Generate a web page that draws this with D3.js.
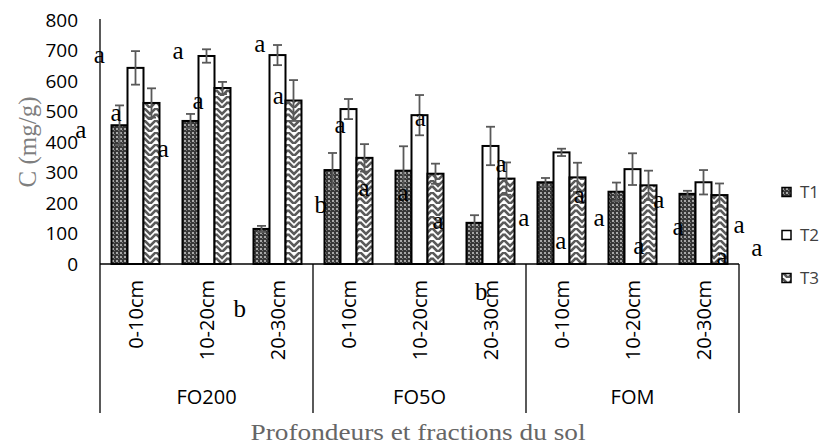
<!DOCTYPE html>
<html><head><meta charset="utf-8">
<script src="https://cdn.jsdelivr.net/npm/d3@7"></script>
<style>body{margin:0;background:#fff}svg{display:block}</style>
</head><body>
<svg id="c" width="828" height="448"></svg>
<script>
const depths = ["0-10cm","10-20cm","20-30cm"];
const fractions = ["FO200","FO5O","FOM"];
const categories = ["FO200|0-10cm","FO200|10-20cm","FO200|20-30cm","FO5O|0-10cm","FO5O|10-20cm","FO5O|20-30cm","FOM|0-10cm","FOM|10-20cm","FOM|20-30cm"];
const seriesNames = ["T1","T2","T3"];
const T1 = [455, 469, 115, 308, 306, 135, 268, 237, 230];
const T2 = [643, 682, 685, 508, 488, 387, 366, 311, 268];
const T3 = [528, 577, 536, 348, 296, 280, 284, 258, 226];
const errT1 = [65, 23, 10, 56, 80, 25, 14, 30, 10];
const errT2 = [55, 22, 33, 33, 66, 63, 12, 52, 40];
const errT3 = [48, 20, 67, 45, 33, 53, 48, 48, 38];
const yTicks = [0,100,200,300,400,500,600,700,800];
// significance letters: [category index, position within category step, value level, letter]
const letters = [
 [0,-0.01,659,"a"],[0,0.225,469,"a"],[0,-0.27,413,"a"],[0,0.89,351,"a"],
 [1,0.10,672,"a"],[1,0.38,508,"a"],
 [2,0.25,695,"a"],[2,0.51,525,"a"],[2,-0.03,-174,"b"],
 [3,0.38,430,"a"],[3,0.11,167,"b"],[3,0.72,223,"a"],
 [4,0.27,207,"a"],[4,0.51,452,"a"],[4,0.76,115,"a"],
 [5,0.37,-118,"b"],[5,0.65,302,"a"],[5,0.97,125,"a"],
 [6,0.75,200,"a"],[6,1.03,125,"a"],[6,0.49,49,"a"],
 [7,0.87,184,"a"],[7,0.59,33,"a"],
 [8,0.14,95,"a"],[8,1.0,102,"a"],[8,1.25,26,"a"],[8,0.76,-3,"a"]
];

const svg = d3.select("#c");
const x = d3.scaleBand().domain(categories).range([100,739]).paddingInner(0.324).paddingOuter(0.162);
const xs = d3.scaleBand().domain(seriesNames).range([0, x.bandwidth()]);
const y = d3.scaleLinear().domain([0,800]).range([264,20]);
const catStart = i => x.range()[0] + i * x.step();

// patterns
const defs = svg.append("defs");
const p1 = defs.append("pattern").attr("id","p1").attr("patternUnits","userSpaceOnUse").attr("width",4).attr("height",4);
p1.append("rect").attr("width",4).attr("height",4).attr("fill","#383838");
p1.append("rect").attr("x",0).attr("y",0).attr("width",2).attr("height",2).attr("fill","#a8a8a8");
p1.append("rect").attr("x",2).attr("y",2).attr("width",1).attr("height",1).attr("fill","#7a7a7a");
const p3 = defs.append("pattern").attr("id","p3").attr("patternUnits","userSpaceOnUse").attr("width",12).attr("height",12);
p3.append("rect").attr("width",12).attr("height",12).attr("fill","#ffffff");
p3.append("path").attr("d","M0,0 L6,6 L12,0 M0,6 L6,12 L12,6").attr("stroke","#5a5a5a").attr("stroke-width",2.6).attr("fill","none");
const fills = {T1:"url(#p1)", T2:"#ffffff", T3:"url(#p3)"};
const vals = {T1, T2, T3};
const errs = {T1:errT1, T2:errT2, T3:errT3};

// y tick labels
svg.append("g").selectAll("text").data(yTicks).join("text")
  .attr("x",78).attr("y",d=>y(d)).attr("dy","0.36em").attr("text-anchor","end")
  .attr("font-family","'Open Sans',sans-serif").attr("font-size",19).attr("fill","#000")
  .text(d=>d);

// bars
const bars = [];
seriesNames.forEach(s => categories.forEach((c,i) => bars.push({s, c, v: vals[s][i], e: errs[s][i]})));
svg.append("g").selectAll("rect").data(bars).join("rect")
  .attr("x", d => x(d.c) + xs(d.s)).attr("width", xs.bandwidth())
  .attr("y", d => y(d.v)).attr("height", d => y(0) - y(d.v))
  .attr("fill", d => fills[d.s]).attr("stroke","#000").attr("stroke-width",2);

// error bars
const eg = svg.append("g").attr("stroke","#595959").attr("stroke-width",1.8);
bars.forEach(d => {
  const cx = x(d.c) + xs(d.s) + xs.bandwidth()/2;
  eg.append("line").attr("x1",cx).attr("x2",cx).attr("y1",y(d.v+d.e)).attr("y2",y(d.v-d.e));
  eg.append("line").attr("x1",cx-4.5).attr("x2",cx+4.5).attr("y1",y(d.v+d.e)).attr("y2",y(d.v+d.e));
  eg.append("line").attr("x1",cx-4.5).attr("x2",cx+4.5).attr("y1",y(d.v-d.e)).attr("y2",y(d.v-d.e));
});

// axes lines
const ag = svg.append("g").attr("stroke","#000").attr("stroke-width",1.3);
ag.append("line").attr("x1",100).attr("x2",100).attr("y1",y(800)-1).attr("y2",413);
ag.append("line").attr("x1",100).attr("x2",739).attr("y1",y(0)).attr("y2",y(0));
[1,2,3].forEach(g => ag.append("line").attr("x1",catStart(g*3)).attr("x2",catStart(g*3)).attr("y1",y(0)).attr("y2",413));

// category labels
svg.append("g").selectAll("text").data(categories).join("text")
  .attr("transform", d => `translate(${x(d)+x.bandwidth()/2},280) rotate(-90)`)
  .attr("dy","0.36em").attr("text-anchor","end")
  .attr("font-family","'Open Sans',sans-serif").attr("font-size",20).attr("fill","#000")
  .text(d => d.split("|")[1]);
svg.append("g").selectAll("text").data(fractions).join("text")
  .attr("x",(d,i)=> (catStart(i*3)+catStart(i*3+3))/2).attr("y",397).attr("dy","0.36em")
  .attr("text-anchor","middle").attr("font-family","'Open Sans',sans-serif").attr("font-size",20).attr("fill","#000")
  .text(d=>d);

// letters
svg.append("g").selectAll("text").data(letters).join("text")
  .attr("x", d => catStart(d[0]) + d[1]*x.step()).attr("y", d => y(d[2]))
  .attr("text-anchor","middle").attr("font-family","'Liberation Serif',serif").attr("font-size",25).attr("fill","#000")
  .text(d => d[3]);

// axis titles
svg.append("text").attr("transform","translate(27,142) rotate(-90)").attr("dy","0.35em")
  .attr("text-anchor","middle").attr("font-family","'Liberation Serif',serif").attr("font-size",25).attr("fill","#7f7f7f")
  .text("C (mg/g)");
svg.append("text").attr("x",418).attr("y",440).attr("text-anchor","middle")
  .attr("font-family","'Liberation Serif',serif").attr("font-size",23).attr("fill","#666")
  .attr("textLength",335).attr("lengthAdjust","spacingAndGlyphs")
  .text("Profondeurs et fractions du sol");

// legend
const lg = svg.append("g").selectAll("g").data(seriesNames).join("g")
  .attr("transform",(d,i)=>`translate(782,${192 + i*43})`);
lg.append("rect").attr("x",0).attr("y",-4.5).attr("width",9).attr("height",9)
  .attr("fill",d=>fills[d]).attr("stroke","#000").attr("stroke-width",1.5);
lg.append("text").attr("x",18).attr("dy","0.36em").attr("font-family","'Open Sans',sans-serif")
  .attr("font-size",17).attr("fill","#404040").text(d=>d);
</script>
</body></html>
